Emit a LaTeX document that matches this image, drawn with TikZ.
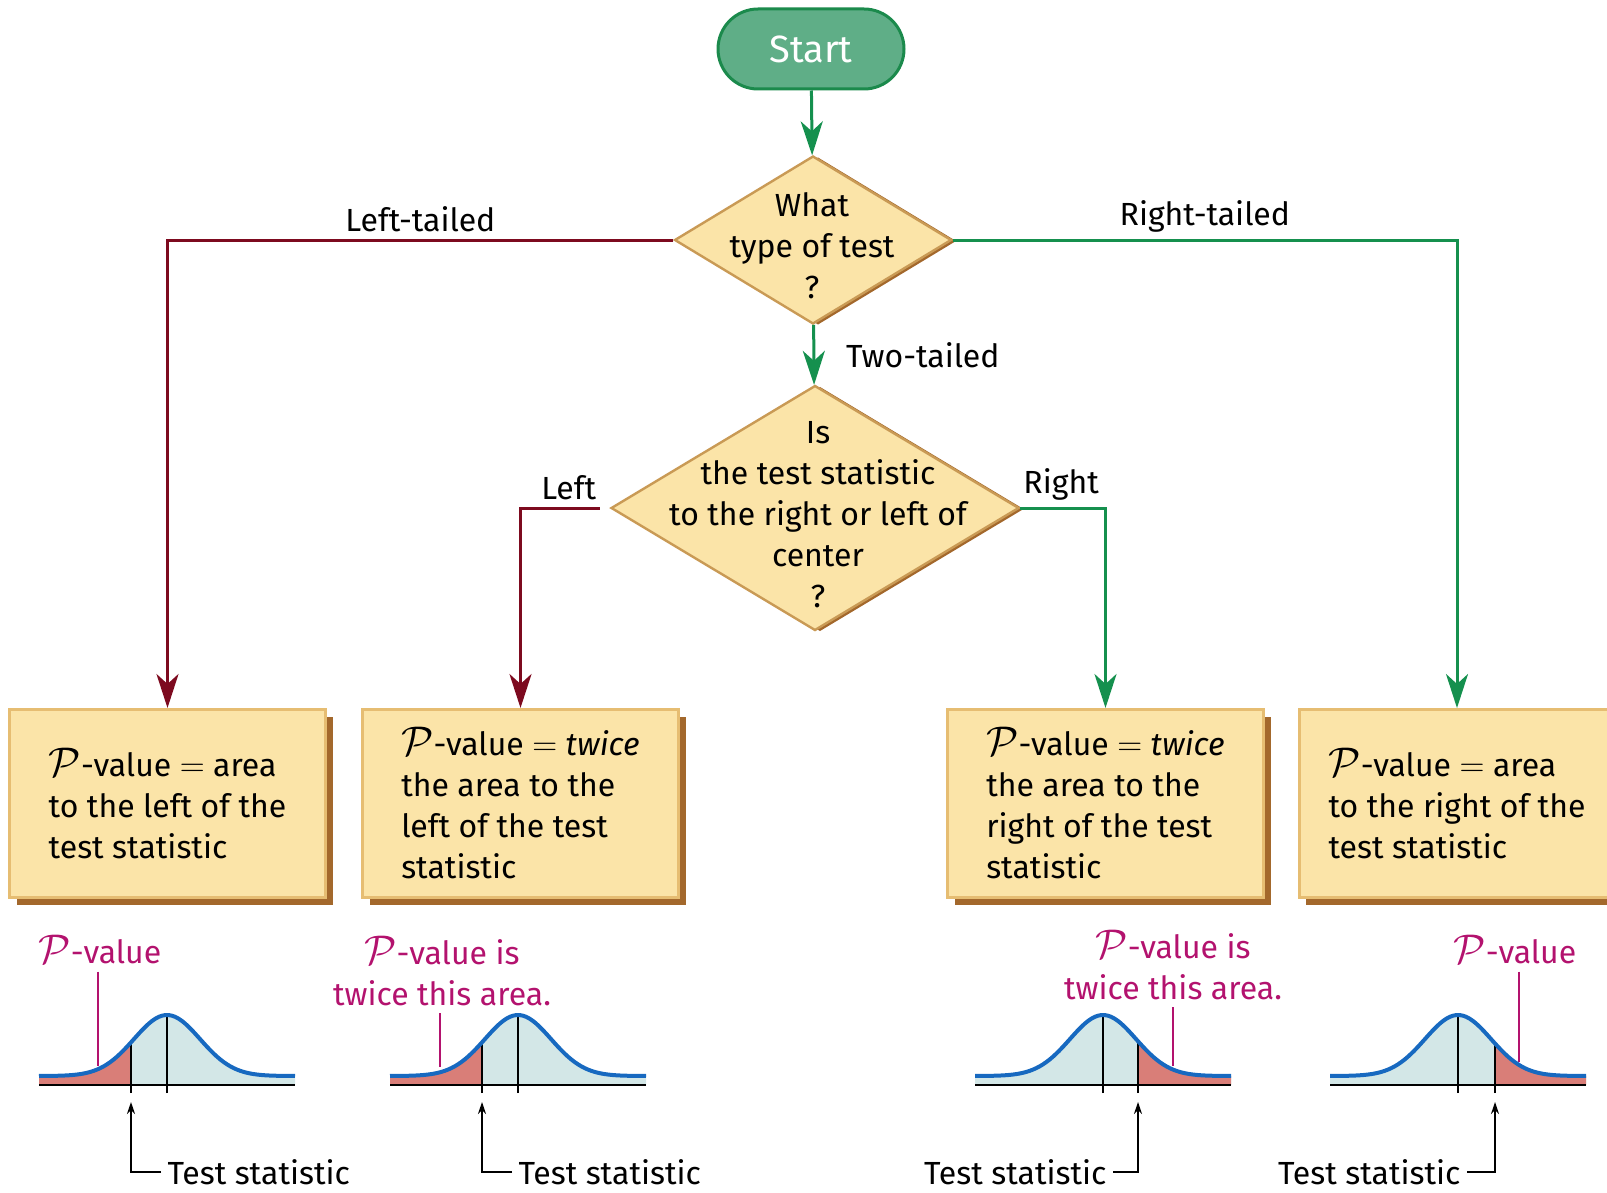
\documentclass[tikz,border=0pt]{standalone}
\usepackage{fontspec}
\setmainfont{Fira Sans}
\usetikzlibrary{positioning, arrows.meta, shapes.geometric, shadows}

\definecolor{startfill}{HTML}{5FAE87}
\definecolor{startedge}{HTML}{1B8A4C}
\definecolor{flowgreen}{HTML}{15904E}
\definecolor{flowred}{HTML}{7D0A1F}
\definecolor{boxfill}{HTML}{FBE4A8}
\definecolor{boxedge}{HTML}{E6BD72}
\definecolor{diaedge}{HTML}{C99A55}
\definecolor{shadowbrown}{HTML}{A3682C}
\definecolor{bellblue}{HTML}{1769C0}
\definecolor{bellgrey}{HTML}{D3E7E7}
\definecolor{tailred}{HTML}{D97E78}
\definecolor{pvmagenta}{HTML}{B3126E}

\newcommand{\pv}{{\fontsize{20}{20.5}\selectfont$\mathcal{P}$}}

\begin{document}
\begin{tikzpicture}[x=0.5pt, y=-0.5pt, >={Stealth[length=17pt, width=11pt, inset=5pt]}, semithick,
    every node/.style={font=\fontsize{16}{20.5}\selectfont},
    declare function={belly(\u)=1076-61*exp(-0.5*(\u/33)*(\u/33));},
    startnode/.style={rectangle, rounded corners=20pt, minimum width=93pt, minimum height=40pt,
      fill=startfill, draw=startedge, line width=1.5pt, text=white, font=\fontsize{19}{22}\selectfont},
    decision/.style={diamond, inner sep=0pt, minimum width=138.5pt, minimum height=84pt,
      fill=boxfill, draw=diaedge, line width=1.2pt,
      drop shadow={shadow xshift=2.5pt, shadow yshift=-0.5pt, fill=shadowbrown, opacity=1}},
    qtext/.style={align=center, inner sep=0pt},
    outcome/.style={rectangle, minimum width=158pt, minimum height=94pt, align=left,
      fill=boxfill, draw=boxedge, line width=1.5pt,
      drop shadow={shadow xshift=3.5pt, shadow yshift=-3.5pt, fill=shadowbrown, opacity=1}},
    greenflow/.style={draw=flowgreen, line width=1.5pt},
    redflow/.style={draw=flowred, line width=1.5pt},
    bellline/.style={draw=bellblue, line width=2pt},
    axisline/.style={draw=black, line width=1.2pt},
    statline/.style={draw=black, line width=1pt},
    pvlabel/.style={text=pvmagenta, align=center},
    pvline/.style={draw=pvmagenta, line width=1pt},
    tslabel/.style={inner sep=3pt},
    tsarrow/.style={-{Stealth[length=6pt, width=4pt]}, draw=black, line width=0.7pt}]

  \useasboundingbox (0,0) rectangle (1607,1193);

  % flow chart
  \node[startnode] (start) at (811,49) {Start};
  \node[decision] (q1) at (813,240) {};
  \node[qtext] (q1t) at (812,246) {What\\type of test\\?};
  \node[decision, minimum width=204pt, minimum height=122.5pt] (q2) at (815,508) {};
  \node[qtext] (q2t) at (818,515) {Is\\the test statistic\\to the right or left of\\center\\?};

  \node[outcome] (b1) at (167.5,803.5) {\pv-value $=$ area\\to the left of the\\test statistic};
  \node[outcome] (b2) at (520.5,803.5) {\pv-value $=$ \textit{twice}\\the area to the\\left of the test\\statistic};
  \node[outcome] (b3) at (1105.5,803.5) {\pv-value $=$ \textit{twice}\\the area to the\\right of the test\\statistic};
  \node[outcome] (b4) at (1457,803.5) {\pv-value $=$ area\\to the right of the\\test statistic};

  \draw[greenflow, ->] (start) -- (q1);
  \draw[greenflow, ->] (q1) -- node[right, xshift=12pt] {Two-tailed} (q2);
  \draw[redflow, ->] (q1.west) -| node[pos=0.25, above] {Left-tailed} (b1);
  \draw[greenflow, ->] (q1.east) -| node[pos=0.25, above] {Right-tailed} (b4);
  \draw[redflow, ->, shorten <=5pt] (q2.west) -| node[pos=0.23, above] {Left} (b2);
  \draw[greenflow, ->] (q2.east) -| node[pos=0.24, above] {Right} (b3);

  % normal curves
  \foreach \cx/\lo/\hi/\ts in {167/-128/-36/-36, 518/-128/-36/-36, 1103/35/128/35, 1458/37/128/37} {
    \fill[bellgrey] (\cx-128,1085) -- plot[domain=-128:128, samples=80] ({\cx+\x},{belly(\x)}) -- (\cx+128,1085) -- cycle;
    \fill[tailred] (\cx+\lo,1085) -- plot[domain=\lo:\hi, samples=40] ({\cx+\x},{belly(\x)}) -- (\cx+\hi,1085) -- cycle;
    \draw[statline] (\cx+\ts,1093) -- (\cx+\ts,{belly(\ts)});
    \draw[statline] (\cx,1093) -- (\cx,1015);
    \draw[axisline] (\cx-128,1085) -- (\cx+128,1085);
    \draw[bellline] plot[domain=-128:128, samples=80] ({\cx+\x},{belly(\x)});
  }

  % test statistic pointers
  \coordinate (ts1) at (131,1102);
  \coordinate (ts2) at (482,1102);
  \coordinate (ts3) at (1138,1102);
  \coordinate (ts4) at (1495,1102);
  \node[tslabel, anchor=west] (tsl1) at (161,1172) {Test statistic};
  \node[tslabel, anchor=west] (tsl2) at (512,1172) {Test statistic};
  \node[tslabel, anchor=east] (tsl3) at (1113,1172) {Test statistic};
  \node[tslabel, anchor=east] (tsl4) at (1467,1172) {Test statistic};
  \draw[tsarrow] (tsl1.west) -| (ts1);
  \draw[tsarrow] (tsl2.west) -| (ts2);
  \draw[tsarrow] (tsl3.east) -| (ts3);
  \draw[tsarrow] (tsl4.east) -| (ts4);

  % P-value callouts
  \node[pvlabel] (pv1) at (100,950) {\pv-value};
  \node[pvlabel] (pv2) at (442,971) {\pv-value is\\twice this area.};
  \node[pvlabel] (pv3) at (1173,965) {\pv-value is\\twice this area.};
  \node[pvlabel] (pv4) at (1515,950) {\pv-value};
  \coordinate (pc1) at (98,1066);
  \coordinate (pc2) at (440,1067);
  \coordinate (pc3) at (1173,1066);
  \coordinate (pc4) at (1519,1062);
  \draw[pvline] (pv1.south -| pc1) -- (pc1);
  \draw[pvline] (pv2.south -| pc2) -- (pc2);
  \draw[pvline] (pv3.south -| pc3) -- (pc3);
  \draw[pvline] (pv4.south -| pc4) -- (pc4);
\end{tikzpicture}
\end{document}
